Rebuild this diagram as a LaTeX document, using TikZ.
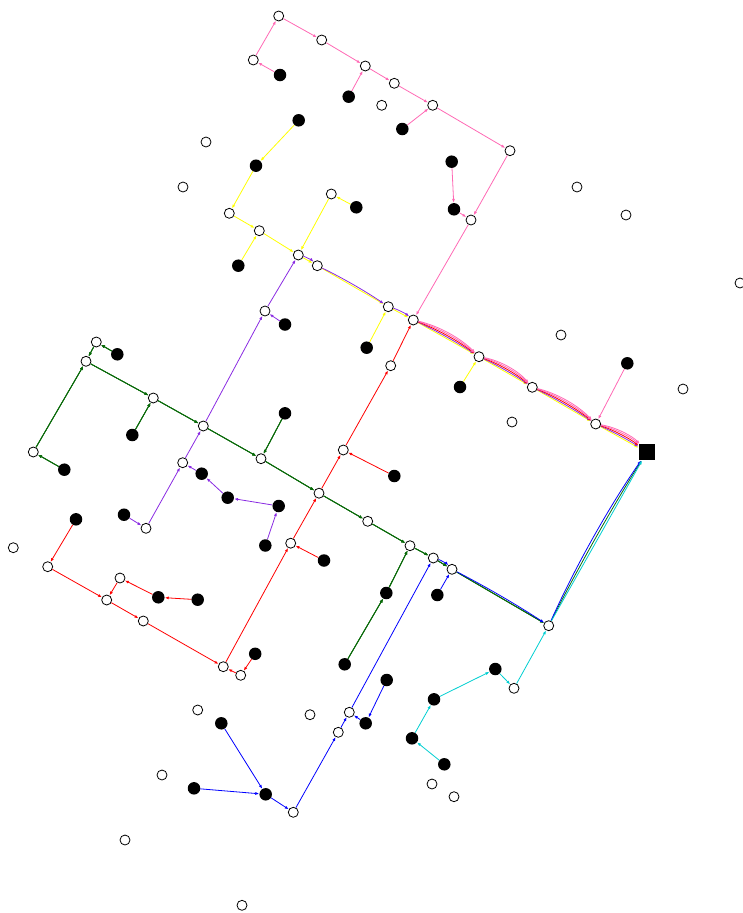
\documentclass[tikz,border=0pt]{standalone}
\usetikzlibrary{arrows.meta,backgrounds,calc}
\definecolor{cpink}{HTML}{FF69B4}
\definecolor{cpurple}{HTML}{8A2BE2}
\definecolor{cyel}{HTML}{FFFF00}
\definecolor{cgreen}{HTML}{0A6A0A}
\definecolor{ccyan}{HTML}{00CED1}
\definecolor{cred}{HTML}{FF0000}
\definecolor{cblue}{HTML}{0000FF}
\tikzset{
  wn/.style={circle,draw=black,fill=white,line width=0.8pt,inner sep=0pt,minimum size=10pt},
  bn/.style={circle,fill=black,inner sep=0pt,minimum size=12.5pt},
  dep/.style={rectangle,fill=black,inner sep=0pt,minimum size=16pt},
  ed/.style={line width=0.8pt,-{Latex[length=4pt,width=3pt]}},
  pE/.style={ed,cpink}, rE/.style={ed,cred}, uE/.style={ed,cpurple},
  yE/.style={ed,cyel}, gE/.style={ed,cgreen}, bE/.style={ed,cblue}, cE/.style={ed,ccyan}
}
% curved edge bowing to the visual left of travel by offset #4
\newcommand\bowedge[4]{\draw[#1] (#2) .. controls ($(#2)!0.33!(#3)!#4!90:(#3)$) and ($(#3)!0.33!(#2)!#4!-90:(#2)$) .. (#3);}
\begin{document}
\begin{tikzpicture}[x=1pt,y=-1pt]
\useasboundingbox (0,0) rectangle (742,913);
% white nodes
\foreach \n/\x/\y in {w1/278.7/16,w2/321.7/40,w3/253.3/60,w4/365.3/66,w5/394.3/83.3,w7/432.7/105.3,
 w8/510/150.7,w9/471/220,w10/413.3/320,w11/229.3/213.3,w12/259.3/230.7,w13/298.3/255,w14/331.3/194,
 w15/317.3/265.7,w16/388.3/306.7,w17/479/356.7,w18/532.3/387.3,w19/595.7/424,w20/265/311,w21/203.3/426,
 w22/182.7/462.7,w23/146/528.3,w24/96.3/342,w25/86/361.3,w26/153.3/398,w27/33.3/452,w28/261/458.7,
 w29/319/493.2,w30/367.7/521.3,w31/410/545.7,w32/433.3/558,w33/452/569.3,w34/548.7/625.7,w35/390.7/365.7,
 w36/343.3/450,w37/290.7/543.2,w38/223.3/666.7,w39/240.7/675.3,w40/143.3/621,w41/106.7/600,w42/120/578,
 w43/47.7/566.7,w44/349.3/712.3,w45/338.3/732.3,w46/293.3/812.3,w47/514/688.3,
 i1/381.7/105.3,i2/206/142,i3/183/187,i4/577/187,i5/626/215,i6/740/283,i7/561/335,i8/683/389,i9/512/422,
 i10/13.3/547.7,i11/197.7/710,i12/310/714.7,i13/162/775,i14/432/784,i15/454/796.7,i16/125/840,i17/242/905.3}
 \node[wn] (\n) at (\x,\y) {};
% black nodes
\foreach \n/\x/\y in {b1/280/75,b2/348.7/96.7,b3/402.3/129,b4/451.7/161.7,b5/454/209.3,b6/298.7/120.3,
 b7/256/165.7,b8/238.3/265.7,b9/356.3/207.3,b10/366.7/347.7,b11/460/387,b12/627.3/363.3,b13/285/324.5,
 b14/201.7/473.7,b15/227.7/497.7,b16/278.7/506,b17/265.3/545.5,b18/124/514.7,b19/117.3/354.3,b20/132.3/435,
 b21/64.3/469.7,b22/285/413.3,b23/386.3/593,b24/344.7/664.3,b25/394.3/476,b26/324/560.5,b27/255.2/653.8,
 b28/158.3/597.3,b29/197.7/599.7,b30/76/519.3,b31/365.7/723.3,b32/386.7/680,b33/265.7/794.3,b34/221.3/723.3,
 b35/194/788.3,b36/437.3/595,b37/495.3/669,b38/434/699.3,b39/412/738.3,b40/444.3/764.3}
 \node[bn] (\n) at (\x,\y) {};
\node[dep] (D) at (646.7,452.3) {};
\begin{pgfonlayer}{background}
% pink
\foreach \a/\b in {b1/w3,w3/w1,w1/w2,w2/w4,b2/w4,w4/w5,w5/w7,b3/w7,w7/w8,w8/w9,b4/b5,b5/w9,w9/w10,b12/w19}
 \draw[pE] (\a) -- (\b);
% yellow
\foreach \a/\b in {b6/b7,b7/w11,w11/w12,b8/w12,w12/w13,b9/w14,w14/w13,w13/w15,w15/w16,b10/w16,w16/w10,
 b11/w17,w10/w17,w17/w18,w18/w19,w19/D}
 \draw[yE] (\a) -- (\b);
% purple
\foreach \a/\b in {b18/w23,w23/w22,b17/b16,b16/b15,b15/b14,b14/w22,w22/w21,w21/w20,b13/w20,w20/w13}
 \draw[uE] (\a) -- (\b);
\foreach \a/\b in {w13/w15,w15/w16,w16/w10}
 \bowedge{uE}{\a}{\b}{2pt}
% green
\foreach \a/\b in {b19/w24,w24/w25,b21/w27,w27/w25,w25/w26,b20/w26,w26/w21,w21/w28,b22/w28,w28/w29,
 w29/w30,w30/w31,b24/b23,b23/w31,w31/w32,w32/w33,w33/w34}
 \draw[gE] (\a) -- (\b);
\bowedge{gE}{w34}{D}{3pt}
% red
\foreach \a/\b in {b30/w43,w43/w41,b29/b28,b28/w42,w42/w41,w41/w40,w40/w38,b27/w39,w39/w38,w38/w37,
 b26/w37,w37/w29,w29/w36,b25/w36,w36/w35,w35/w10}
 \draw[rE] (\a) -- (\b);
% blue
\foreach \a/\b in {b34/b33,b35/b33,b33/w46,w46/w45,w45/w44,b32/b31,b31/w44,w44/w32,b36/w33}
 \draw[bE] (\a) -- (\b);
\bowedge{bE}{w32}{w33}{2pt}
\bowedge{bE}{w33}{w34}{2pt}
\bowedge{bE}{w34}{D}{6pt}
% cyan
\foreach \a/\b in {b40/b39,b39/b38,b38/b37,b37/w47,w47/w34,w34/D}
 \draw[cE] (\a) -- (\b);
% trunk bundle
\foreach \a/\b in {w10/w17,w17/w18,w18/w19,w19/D}{
 \bowedge{uE}{\a}{\b}{1.8pt}
 \bowedge{rE}{\a}{\b}{3.6pt}
 \bowedge{pE}{\a}{\b}{5.4pt}
 \bowedge{pE}{\a}{\b}{7.2pt}
}
\end{pgfonlayer}
\end{tikzpicture}
\end{document}
